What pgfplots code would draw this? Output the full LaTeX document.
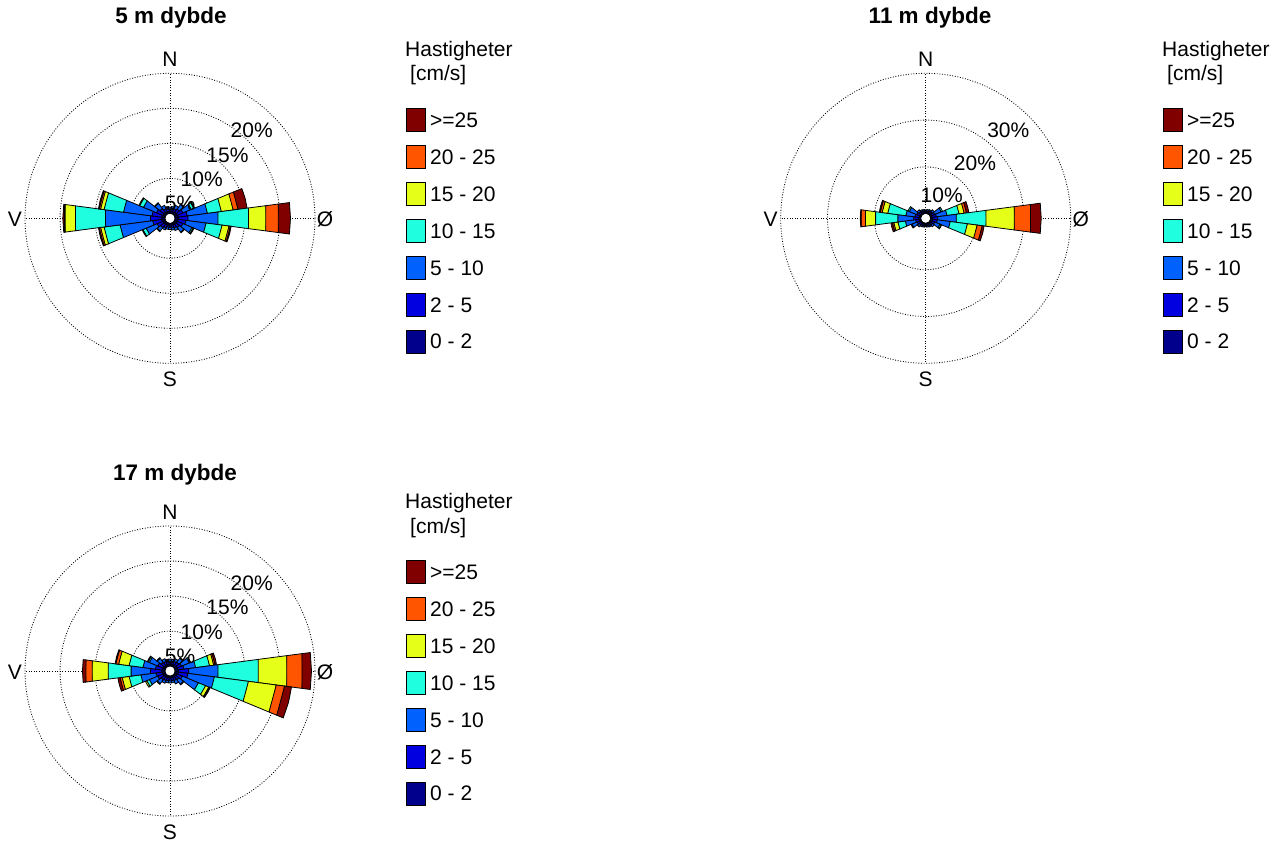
\documentclass[border=0pt]{standalone}
\usepackage{fontspec}
\setmainfont{Liberation Sans}
\usepackage{pgfplots}
\usepackage{pgfplotstable}
\pgfplotsset{compat=1.18}
\usepgfplotslibrary{polar}

\definecolor{col0}{rgb}{0,0,0.55}
\definecolor{col1}{rgb}{0,0,0.88}
\definecolor{col2}{rgb}{0,0.38,1}
\definecolor{col3}{rgb}{0.12,1,0.88}
\definecolor{col4}{rgb}{0.9,1,0.1}
\definecolor{col5}{rgb}{1,0.33,0}
\definecolor{col6}{rgb}{0.5,0,0}

\newcommand\lf{\fontsize{21}{25}\selectfont}
\newcommand\tf{\fontsize{22.5}{27}\selectfont\bfseries}

% per-class frequencies (%) per direction (bearing, 0 = N, 90 = E)
% s0: 0-2, s1: 2-5, s2: 5-10, s3: 10-15, s4: 15-20, s5: 20-25, s6: >=25 cm/s
\pgfplotstableread{
bearing s0 s1 s2 s3 s4 s5 s6
0   0.3 0.3 0.3 0   0    0    0
15  0.3 0.4 0.3 0   0    0    0
30  0.3 0.5 0.5 0   0    0    0
45  0.4 0.6 0.8 0.1 0    0    0
60  0.4 0.9 1.3 0.4 0.05 0.05 0
75  0.5 1.3 2.9 2.0 1.7  0.7  1.3
90  0.5 1.4 4.3 4.4 2.5  1.8  1.6
105 0.5 1.1 2.9 2.3 1.0  0.2  0.1
120 0.4 0.9 1.4 0.2 0.1  0    0
135 0.4 0.6 0.8 0.1 0    0    0
150 0.3 0.5 0.4 0   0    0    0
165 0.3 0.4 0.3 0   0    0    0
180 0.3 0.3 0.3 0   0    0    0
195 0.3 0.3 0.3 0   0    0    0
210 0.3 0.5 0.3 0   0    0    0
225 0.4 0.6 0.6 0.1 0    0    0
240 0.4 0.9 1.7 0.5 0.1  0    0
255 0.5 1.3 4.7 2.3 0.5  0.2  0.1
270 0.5 1.6 6.5 4.3 1.5  0.1  0.1
285 0.5 1.4 4.1 2.8 0.5  0.2  0.1
300 0.4 1.0 2.0 0.6 0.1  0    0
315 0.4 0.7 0.9 0.1 0    0    0
330 0.3 0.5 0.5 0   0    0    0
345 0.3 0.4 0.3 0   0    0    0
}\roseA

\pgfplotstableread{
bearing s0 s1 s2 s3 s4 s5 s6
0   0.3 0.3 0.2 0   0   0   0
15  0.3 0.3 0.3 0   0   0   0
30  0.3 0.4 0.3 0   0   0   0
45  0.3 0.5 0.5 0   0   0   0
60  0.4 0.7 1.5 0.3 0   0   0
75  0.4 0.9 2.3 2.6 1.1 0.5 0.5
90  0.5 1.1 4.0 6.4 6.1 3.5 2.1
105 0.5 1.0 2.8 3.7 2.1 1.1 0.4
120 0.4 0.7 1.2 0.3 0.1 0   0
135 0.3 0.5 0.5 0   0   0   0
150 0.3 0.4 0.3 0   0   0   0
165 0.3 0.3 0.3 0   0   0   0
180 0.3 0.3 0.2 0   0   0   0
195 0.3 0.3 0.3 0   0   0   0
210 0.3 0.4 0.3 0   0   0   0
225 0.3 0.5 0.5 0   0   0   0
240 0.4 0.6 1.2 0.2 0   0   0
255 0.4 0.8 2.2 1.6 0.9 0.3 0.3
270 0.5 1.1 3.4 4.8 2.2 0.9 0.1
285 0.4 0.9 2.0 3.9 1.2 0.4 0.2
300 0.4 0.7 1.7 0.3 0   0   0
315 0.3 0.5 0.5 0   0   0   0
330 0.3 0.4 0.3 0   0   0   0
345 0.3 0.3 0.3 0   0   0   0
}\roseB

\pgfplotstableread{
bearing s0 s1 s2 s3 s4 s5 s6
0   0.3 0.4 0.3 0   0   0   0
15  0.3 0.4 0.3 0   0   0   0
30  0.3 0.5 0.4 0   0   0   0
45  0.3 0.6 0.7 0.1 0   0   0
60  0.4 0.7 1.2 0.2 0   0   0
75  0.4 0.9 1.7 2.0 0.6 0.2 0.2
90  0.5 1.5 4.2 5.8 4.1 2.2 1.2
105 0.5 1.4 3.8 4.9 4.0 1.2 1.0
120 0.4 0.8 2.5 1.1 0.5 0.1 0.1
135 0.3 0.6 0.8 0.1 0   0   0
150 0.3 0.5 0.5 0   0   0   0
165 0.3 0.4 0.3 0   0   0   0
180 0.3 0.4 0.3 0   0   0   0
195 0.3 0.4 0.3 0   0   0   0
210 0.3 0.5 0.4 0   0   0   0
225 0.3 0.6 0.7 0.1 0   0   0
240 0.4 0.8 1.3 0.4 0.2 0   0
255 0.4 0.9 2.2 1.7 1.0 0.3 0.3
270 0.5 1.6 2.8 3.3 2.3 0.9 0.4
285 0.4 1.0 1.8 2.0 1.5 0.4 0.1
300 0.4 0.8 1.3 0.2 0.1 0   0
315 0.3 0.6 0.7 0.1 0   0   0
330 0.3 0.5 0.4 0   0   0   0
345 0.3 0.4 0.3 0   0   0   0
}\roseC

\newcommand\drawseg[3]{%
  \pgfplotstablegetelem{#2}{s#3}\of{#1}%
  \let\vv\pgfplotsretval
  \ifdim\vv pt>0pt
    \pgfmathsetmacro\rA{\acc}%
    \pgfmathsetmacro\rB{\acc+\vv}%
    \global\let\acc\rB
    \edef\tmp{\noexpand\addplot[draw=black,line width=0.8pt,fill=col#3,mark=none] coordinates {(\dA,\rA) (\dA,\rB) (\dd,\rB) (\dB,\rB) (\dB,\rA) (\dA,\rA)};}%
    \tmp
  \fi}

\newcommand\drawrose[2]{%
  \pgfplotsforeachungrouped \i in {0,...,23}{%
    \pgfplotstablegetelem{\i}{bearing}\of{#1}%
    \pgfmathsetmacro\dd{90-\pgfplotsretval}%
    \pgfmathsetmacro\dA{\dd-7.5}%
    \pgfmathsetmacro\dB{\dd+7.5}%
    \xdef\acc{#2}%
    \drawseg{#1}{\i}{0}\drawseg{#1}{\i}{1}\drawseg{#1}{\i}{2}%
    \drawseg{#1}{\i}{3}\drawseg{#1}{\i}{4}\drawseg{#1}{\i}{5}%
    \drawseg{#1}{\i}{6}%
  }}

\pgfplotsset{
  rose/.style={
    width=290pt, height=290pt, scale only axis,
    xmin=0, xmax=360, ymin=0,
    xtick={0,90,180,270}, xticklabels={},
    yticklabels={},
    major tick length=0pt,
    axis line style={draw=none},
    xmajorgrids, ymajorgrids,
    major grid style={black, line width=0.85pt, dash pattern=on 0.9pt off 1.7pt},
    no markers,
    anchor=center,
    clip=false,
  }
}

\newcommand\speedlegend[2]{%
  \begin{scope}[shift={(#1pt,-#2pt)}]
  \node[anchor=base west, inner sep=0pt, font=\lf] at (0pt,-56.7pt) {Hastigheter};
  \node[anchor=base west, inner sep=0pt, font=\lf] at (5pt,-81pt) {[cm/s]};
  \foreach \lab [count=\k from 0] in {{>=25},{20 - 25},{15 - 20},{10 - 15},{5 - 10},{2 - 5},{0 - 2}} {
    \pgfmathsetmacro\cy{120+36.9*\k}
    \pgfmathtruncatemacro\cc{6-\k}
    \draw[fill=col\cc, line width=0.8pt] (1pt,-\cy pt+11.5pt) rectangle (20pt,-\cy pt-11.5pt);
    \node[anchor=base west, inner sep=0pt, font=\lf] at (25pt,-\cy pt-7.5pt) {\lab};
  }
  \end{scope}}

\newcommand\compass[2]{%
  \node[anchor=base, inner sep=0pt, font=\lf] at (#1pt,-#2pt+151.7pt) {N};
  \node[anchor=base, inner sep=0pt, font=\lf] at (#1pt,-#2pt-168.5pt) {S};
  \node[anchor=base, inner sep=0pt, font=\lf] at (#1pt-155pt,-#2pt-8.5pt) {V};
  \node[anchor=base, inner sep=0pt, font=\lf] at (#1pt+155pt,-#2pt-8.5pt) {Ø};}

\begin{document}
\begin{tikzpicture}
\useasboundingbox (0,0) rectangle (1285pt,-843pt);

% ---- 5 m
\begin{polaraxis}[rose, at={(170pt,-218.3pt)}, ymax=20.7, ytick={5.7,10.7,15.7,20.7}]
\drawrose{\roseA}{0.7}
\fill[white] (axis cs:0,0) circle[radius=4.3pt];
\end{polaraxis}
\compass{170}{218.3}
\node[font=\lf] at (180pt,-203.3pt) {5\%};
\node[font=\lf] at (201.7pt,-179.3pt) {10\%};
\node[font=\lf] at (227.5pt,-155pt) {15\%};
\node[font=\lf] at (251.7pt,-130pt) {20\%};
\node[anchor=base, inner sep=0pt, font=\tf] at (171pt,-24pt) {5 m dybde};
\speedlegend{405}{0}

% ---- 11 m
\begin{polaraxis}[rose, at={(925.7pt,-218.3pt)}, ymax=31, ytick={11,21,31}]
\drawrose{\roseB}{1.0}
\fill[white] (axis cs:0,0) circle[radius=4.3pt];
\end{polaraxis}
\compass{925.7}{218.3}
\node[font=\lf] at (941.7pt,-195pt) {10\%};
\node[font=\lf] at (975pt,-163.3pt) {20\%};
\node[font=\lf] at (1008.3pt,-130pt) {30\%};
\node[anchor=base, inner sep=0pt, font=\tf] at (930pt,-24pt) {11 m dybde};
\speedlegend{1162}{0}

% ---- 17 m
\begin{polaraxis}[rose, at={(170pt,-671pt)}, ymax=20.7, ytick={5.7,10.7,15.7,20.7}]
\drawrose{\roseC}{0.7}
\fill[white] (axis cs:0,0) circle[radius=4.3pt];
\end{polaraxis}
\compass{170}{671}
\node[font=\lf] at (180pt,-656pt) {5\%};
\node[font=\lf] at (201.7pt,-632pt) {10\%};
\node[font=\lf] at (227.5pt,-607.7pt) {15\%};
\node[font=\lf] at (251.7pt,-583.7pt) {20\%};
\node[anchor=base, inner sep=0pt, font=\tf] at (175pt,-480pt) {17 m dybde};
\speedlegend{405}{452}
\end{tikzpicture}
\end{document}
